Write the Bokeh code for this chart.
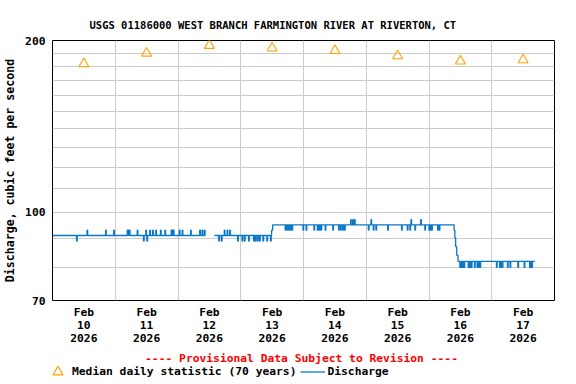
import math
from bokeh.plotting import figure
from bokeh.layouts import column
from bokeh.models import Range1d, FixedTicker, Legend, LegendItem, Label
from bokeh.embed import file_html
from bokeh.resources import INLINE

FONT = "DejaVu Sans Mono"
FS = "11.3px"
BLUE = "#0a78c8"
ORANGE = "#ffa200"

# ---- axes / ticks ----
day_ticks = [0.5, 1.5, 2.5, 3.5, 4.5, 5.5, 6.5, 7.5]
day_labels = ["Feb\n10\n2026", "Feb\n11\n2026", "Feb\n12\n2026", "Feb\n13\n2026",
              "Feb\n14\n2026", "Feb\n15\n2026", "Feb\n16\n2026", "Feb\n17\n2026"]
day_bounds = [1, 2, 3, 4, 5, 6, 7]
y_ticks = [70, 100, 200]
y_grid = [80, 90, 100, 110, 120, 130, 140, 150, 160, 170, 180, 190]

# ---- median daily statistic (at noon of each day) ----
median_day = [0.5, 1.5, 2.5, 3.5, 4.5, 5.5, 6.5, 7.5]
median_cfs = [182, 190, 196, 194, 192, 188, 184, 185]

# ---- discharge: base levels (hours since Feb 10 00:00); nan = gap / end ----
nan = float("nan")
level_hours = [0.0, 58.5, 61.9, 83.8, 84.2, 153.6, 153.9, 154.2, 154.6, 155.1, 184.5]
level_cfs = [91, nan, 91, 93, 95, 93, 90, 87, 84, 82, nan]

# short 15-minute excursions from the base level
up93_hours = [13.2, 20.3, 23.4, 28.6, 28.9, 29.4, 32.4, 35.7, 37.2, 38.3, 39.5, 41.3,
              43.0, 45.4, 45.7, 46.2, 48.5, 49.6, 52.8, 56.3, 57.2, 58.1, 65.7, 66.8, 67.8]
dn89_hours = [9.2, 34.8, 36.1, 63.6, 64.6, 70.8, 72.5, 73.4, 75.0, 76.9, 77.6, 78.4,
              79.2, 80.5, 82.0, 83.4]
dn93_hours = [89.0, 89.6, 90.3, 91.0, 91.6, 95.8, 97.0, 100.0, 101.3, 102.0, 102.7,
              104.3, 107.2, 109.4, 110.2, 111.0, 111.7, 120.8, 122.7, 123.7, 128.2,
              133.5, 135.7, 136.7, 138.6, 142.4, 144.0, 144.5, 145.0, 147.3, 147.9]
up97_hours = [114.0, 114.8, 115.5, 121.8, 137.1, 140.8]
dn80_hours = [155.8, 156.2, 156.6, 157.0, 157.4, 159.0, 159.4, 159.8, 160.2, 161.4,
              162.4, 162.9, 163.5, 169.8, 171.0, 171.5, 172.0, 174.0, 175.0, 178.0,
              180.4, 182.5, 183.0, 183.3]
excursion_groups = [(up93_hours, 93), (dn89_hours, 89), (dn93_hours, 93),
                    (up97_hours, 97), (dn80_hours, 80)]
EXC_DUR = 0.25


def base_at(t):
    v = None
    for lt, lv in zip(level_hours, level_cfs):
        if lt <= t:
            v = lv
    return v


pts = [(t, v, 0) for t, v in zip(level_hours, level_cfs)]
for hours, val in excursion_groups:
    for t in hours:
        pts.append((t, val, 1))
        pts.append((t + EXC_DUR, base_at(t + EXC_DUR), 0))
pts.sort(key=lambda q: (q[0], q[2]))

runs = []
cur = []
for t, v, _ in pts:
    if v is None or (isinstance(v, float) and math.isnan(v)):
        if cur:
            cur.append((t, cur[-1][1]))
            runs.append(cur)
        cur = []
    else:
        cur.append((t, v))

# ================= main chart =================
p = figure(width=576, height=347, x_range=Range1d(0, 8), y_range=Range1d(70, 200),
           y_axis_type="log", output_backend="svg", toolbar_location=None,
           min_border_left=52, min_border_right=22, min_border_top=40,
           min_border_bottom=47)
p.background_fill_color = "white"
p.border_fill_color = "white"
p.outline_line_color = "black"
p.outline_line_width = 1
p.outline_line_alpha = 1

p.title.text = "USGS 01186000 WEST BRANCH FARMINGTON RIVER AT RIVERTON, CT"
p.title.align = "left"
p.title.offset = 37
p.title.standoff = 19
p.title.text_font = FONT
p.title.text_font_size = "10.5px"
p.title.text_font_style = "bold"
p.title.text_color = "black"

p.xgrid.ticker = FixedTicker(ticks=day_bounds)
p.ygrid.ticker = FixedTicker(ticks=y_grid)
for g in (p.xgrid, p.ygrid):
    g.grid_line_color = "#cccccc"
    g.grid_line_width = 1

p.xaxis.ticker = FixedTicker(ticks=day_ticks)
p.xaxis.major_label_overrides = dict(zip(day_ticks, day_labels))
p.yaxis.ticker = FixedTicker(ticks=y_ticks)
p.yaxis.major_label_overrides = {t: str(t) for t in y_ticks}
p.yaxis.axis_label = "Discharge, cubic feet per second"
for ax in (p.xaxis, p.yaxis):
    ax.axis_line_color = None
    ax.major_tick_line_color = None
    ax.minor_tick_line_color = None
    ax.major_tick_out = 0
    ax.major_tick_in = 0
    ax.minor_tick_out = 0
    ax.major_label_text_font = FONT
    ax.major_label_text_font_size = FS
    ax.major_label_text_font_style = "bold"
    ax.major_label_text_color = "black"
p.xaxis.major_label_standoff = 5
p.xaxis.major_label_text_line_height = 1.0
p.yaxis.major_label_standoff = 7
p.yaxis.axis_label_standoff = 5
p.yaxis.axis_label_text_font = FONT
p.yaxis.axis_label_text_font_size = "11.6px"
p.yaxis.axis_label_text_font_style = "bold"
p.yaxis.axis_label_text_color = "black"

for run in runs:
    p.step(x=[t / 24.0 for t, _ in run], y=[v for _, v in run], mode="after",
           line_color=BLUE, line_width=1.3)

p.scatter(x=median_day, y=median_cfs, marker="triangle", size=10,
          fill_color=None, line_color=ORANGE, line_width=1.1)

# ================= note + legend strip =================
# its frame is aligned with the main chart's frame (x 52..554 of the page)
q = figure(width=576, height=37, x_range=Range1d(52, 554), y_range=Range1d(0, 37),
           output_backend="svg", toolbar_location=None,
           x_axis_location=None, y_axis_location=None,
           min_border_left=0, min_border_right=0, min_border_top=0, min_border_bottom=0)
q.grid.visible = False
q.outline_line_color = None
q.background_fill_color = "white"
q.border_fill_color = "white"

q.add_layout(Label(x=301, y=26, text="---- Provisional Data Subject to Revision ----",
                   text_color="#ff0000", text_font=FONT, text_font_size=FS,
                   text_font_style="bold", text_align="center", text_baseline="middle"))

# legend key renderers (kept outside the visible range of the strip)
key_tri = q.scatter(x=[-100], y=[-100], marker="triangle", size=10,
                    fill_color=None, line_color=ORANGE, line_width=1.1)
key_line = q.line(x=[-100, -90], y=[-100, -100], line_color=BLUE, line_width=1.3)

legend = Legend(items=[LegendItem(label="Median daily statistic (70 years)", renderers=[key_tri]),
                       LegendItem(label="Discharge", renderers=[key_line])],
                location=(-7, 0), orientation="horizontal",
                glyph_width=25, glyph_height=25, label_standoff=2, spacing=4,
                label_height=14, padding=0, margin=0, border_line_alpha=0,
                background_fill_alpha=0,
                label_text_font=FONT, label_text_font_style="bold",
                label_text_font_size=FS, label_text_color="black")
q.add_layout(legend)

layout = column(p, q, spacing=0)
open("out.html", "w").write(file_html(layout, INLINE))
